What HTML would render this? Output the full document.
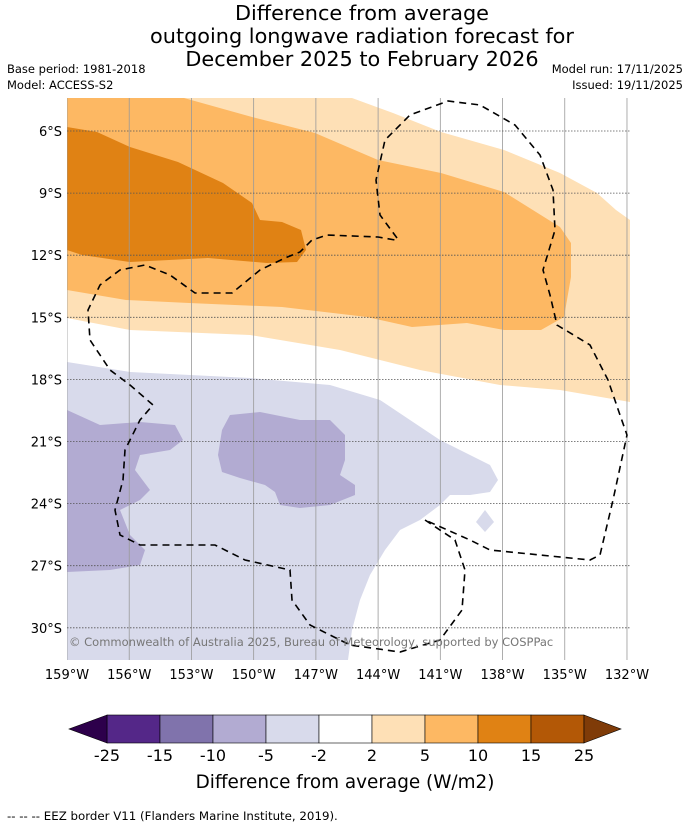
<!DOCTYPE html>
<html><head><meta charset="utf-8"><style>
body{margin:0;background:#fff;font-family:"DejaVu Sans",sans-serif;}
#wrap{position:relative;width:690px;height:827px;overflow:hidden;}
</style></head><body>
<div id="wrap">
<svg id="svg" width="690" height="827" xmlns="http://www.w3.org/2000/svg" font-family="DejaVu Sans, sans-serif">
<g font-size="20.8" text-anchor="middle" fill="#000">
<text x="362" y="20">Difference from average</text>
<text x="362" y="43">outgoing longwave radiation forecast for</text>
<text x="362" y="66">December 2025 to February 2026</text>
</g>
<text x="7" y="73" font-size="11.5">Base period: 1981-2018</text>
<text x="7" y="89" font-size="11.5">Model: ACCESS-S2</text>
<text x="683" y="73" font-size="11.5" text-anchor="end">Model run: 17/11/2025</text>
<text x="683" y="89" font-size="11.5" text-anchor="end">Issued: 19/11/2025</text>
<defs><clipPath id="mc"><rect x="67" y="98" width="563" height="562"/></clipPath></defs>
<g clip-path="url(#mc)">
<rect x="67" y="98" width="563" height="562" fill="#fff"/>
<polygon fill="#fee0b6" points="67,98 352,98 393,113 441,132 504,150 560,173 597,193 616,210 630,220 630,402 560,390 500,385 420,370 340,350 250,335 130,330 67,318"/>
<polygon fill="#fdb863" points="67,98 184,98 252,117 315,133 378,160 441,173 504,192 560,227 571,243 571,277 564,317 541,330 504,330 467,323 412,327 367,317 282,307 189,303 126,300 67,290"/>
<polygon fill="#e08214" points="67,127 97,132 130,147 178,162 223,183 252,203 260,220 282,222 301,230 306,250 297,262 267,263 208,258 130,262 82,255 67,250"/>
<polygon fill="#d8daeb" points="67,362 130,372 250,378 330,385 380,400 410,420 440,440 470,455 490,465 498,480 490,492 470,495 450,495 440,505 420,520 400,530 385,550 370,575 360,600 352,630 348,660 67,660"/>
<polygon fill="#d8daeb" points="485,510 494,522 485,532 476,522"/>
<polygon fill="#b2abd2" points="67,410 100,425 140,422 175,425 183,440 170,450 140,455 135,470 150,490 140,500 120,510 130,535 145,550 140,565 110,570 67,572"/>
<polygon fill="#b2abd2" points="230,415 260,412 300,420 330,420 345,435 345,460 340,475 355,485 355,495 330,505 300,508 280,505 275,492 265,485 240,478 222,472 218,455 222,430"/>
<g id="grid"></g>
<g fill="none" stroke="#000" stroke-width="1.6" stroke-dasharray="7,5">
<polyline points="397,238 380,215 376,180 385,140 410,115 448,101 480,105 515,125 540,155 553,190 555,230 543,270 550,295 557,325 590,345 608,380 620,415 627,435 613,500 600,555 590,560 540,555 490,550 470,540 425,520"/>
<polyline points="425,520 455,540 465,570 462,610 440,640 400,652 350,645 310,625 292,600 290,570 245,560 215,545 175,545 140,545 120,535 115,510 123,480 125,450 140,420 153,405 130,385 110,370 90,340 88,310 100,285 120,270 145,265 170,275 195,293 232,293 260,270 285,258 300,252 312,240 327,235 378,237 395,240"/>
</g>
<text x="69" y="646" font-size="11.5" fill="#777">© Commonwealth of Australia 2025, Bureau of Meteorology, supported by COSPPac</text>
</g>
<g id="axes" font-size="13"></g>
<g id="cbar"></g>
<text x="345" y="788" font-size="18.4" text-anchor="middle">Difference from average (W/m2)</text>
<text x="7" y="820" font-size="11.8">--  --  -- EEZ border V11 (Flanders Marine Institute, 2019).</text>
</svg>
</div>
<script>
const lonTicks=[159,156,153,150,147,144,141,138,135,132];
const latTicks=[6,9,12,15,18,21,24,27,30];
const cbarBounds=[-25,-15,-10,-5,-2,2,5,10,15,25];
const cbarColors=['#542788','#8073ac','#b2abd2','#d8daeb','#ffffff','#fee0b6','#fdb863','#e08214','#b35806'];
const ns='http://www.w3.org/2000/svg';
function xL(lon){return 67+(159-lon)*20.74;}
function yL(lat){return 131+(lat-6)*20.7;}
function mk(t,a,p){const e=document.createElementNS(ns,t);for(const k in a)e.setAttribute(k,a[k]);p.appendChild(e);return e;}
const grid=document.getElementById('grid'),axes=document.getElementById('axes'),cb=document.getElementById('cbar');
lonTicks.forEach(l=>{const x=xL(l);
const g=mk('line',{x1:x,x2:x,y1:98,y2:660,stroke:'#999','stroke-width':0.8},grid);


const t=mk('text',{x:x,y:679,'text-anchor':'middle'},axes);t.textContent=l+'°W';

});
latTicks.forEach(l=>{const y=yL(l);
const g=mk('line',{x1:67,x2:630,y1:y,y2:y,stroke:'#555','stroke-width':0.8,'stroke-dasharray':'1.5,1.5'},grid);


const t=mk('text',{x:62,y:y+5,'text-anchor':'end'},axes);t.textContent=l+'°S';

});
const x0=107,w=53.0,y0=715,h=28;
cbarColors.forEach((c,i)=>{const r=mk('rect',{x:x0+i*w,y:y0,width:w,height:h,fill:c,stroke:'#000','stroke-width':0.6},cb);

});
const l=mk('polygon',{points:`${x0},${y0} ${x0},${y0+h} 69,${y0+h/2}`,fill:'#2d004b',stroke:'#000','stroke-width':0.6},cb);


const xe=x0+9*w;
const r=mk('polygon',{points:`${xe},${y0} ${xe},${y0+h} 621,${y0+h/2}`,fill:'#7f3b08',stroke:'#000','stroke-width':0.6},cb);


cbarBounds.forEach((v,i)=>{const t=mk('text',{x:x0+i*w,y:761,'text-anchor':'middle','font-size':16},cb);t.textContent=v;

});
</script>
</body></html>
